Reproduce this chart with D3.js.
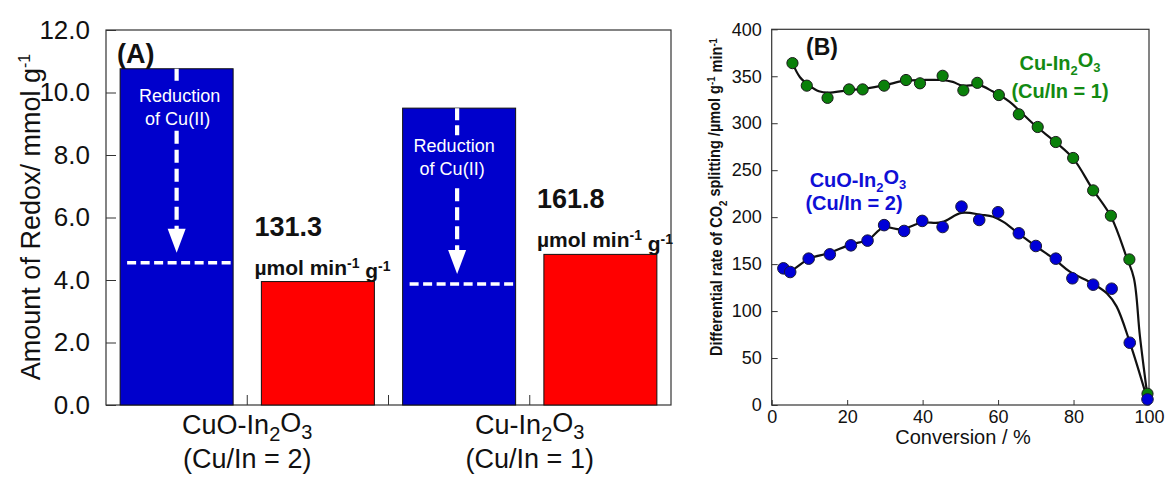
<!DOCTYPE html>
<html>
<head>
<meta charset="utf-8">
<script src="https://cdn.jsdelivr.net/npm/d3@7/dist/d3.min.js"></script>
<style>
  html, body { margin: 0; padding: 0; background: #fff; }
  svg { display: block; font-family: "Liberation Sans", Arial, sans-serif; }
</style>
</head>
<body>
<svg id="chart" width="1166" height="477"></svg>
<script>
// ---------- Panel A: redox amounts ----------
const samples = ["CuO-In2O3 (Cu/In = 2)", "Cu-In2O3 (Cu/In = 1)"];
const sampleNames = [
  [{t: "CuO-In"}, {t: "2", sub: true}, {t: "O"}, {t: "3", sub: true}],
  [{t: "Cu-In"}, {t: "2", sub: true}, {t: "O"}, {t: "3", sub: true}]
];
const sampleRatios = ["(Cu/In = 2)", "(Cu/In = 1)"];
const redoxAmount = [10.76, 9.50];      // blue bars, mmol g-1
const splittingAmount = [3.95, 4.82];   // red bars, mmol g-1
const cuReductionLevel = [4.55, 3.87];  // dashed level of Cu(II) reduction
const rateLabels = ["131.3", "161.8"];  // µmol min-1 g-1
const yTicksA = [0, 2, 4, 6, 8, 10, 12];

// ---------- Panel B: differential rate of CO2 splitting ----------
const cuConv = [5.5, 9.3, 14.8, 20.5, 24.1, 29.8, 35.6, 39.3, 45.3, 50.8, 54.5, 60.2, 65.5, 70.5, 75.3, 79.9, 85.2, 89.9, 94.8, 99.6];
const cuRate = [364, 340, 327, 336, 336, 340, 346, 342.5, 350.5, 335, 343, 330, 309.5, 296, 280, 263, 228.5, 201.5, 155, 12];
const cuFitConv = [5.5, 7.5, 10, 12.5, 15, 20, 25, 30, 35, 40, 45, 48, 50.5, 55, 58.5, 63, 66, 70, 75.5, 80, 85, 90, 94, 96, 97.6, 99.5];
const cuFitRate = [364, 349, 340, 334, 332.5, 335, 337, 340.5, 345, 346, 346, 344, 340, 340.5, 334, 323, 312, 297, 279, 262, 230, 200, 158, 135, 73, 12];

const cuoConv = [3.1, 4.9, 9.8, 15.4, 21.0, 25.4, 29.8, 35.1, 39.9, 45.3, 50.3, 55.0, 60.0, 65.5, 70.0, 75.3, 79.7, 85.2, 90.1, 94.9, 99.6];
const cuoRate = [145.5, 141.6, 155.8, 160.4, 170, 175, 191.5, 185.3, 196, 189.5, 211.2, 197, 205.2, 182.8, 169.3, 155.8, 134.9, 128.1, 123.8, 66.3, 6];
const cuoFitConv = [3.5, 5, 10, 15, 21, 25.6, 29.6, 34.4, 39.7, 45, 50.3, 55.6, 58.7, 61.4, 65.3, 70.2, 75, 79, 85, 88.8, 91.4, 95, 99.5];
const cuoFitRate = [144, 143, 156, 161.5, 171, 176, 189, 187, 194, 194.5, 204.5, 202.5, 200.5, 195, 183, 168.5, 155, 142, 129.5, 119, 105, 65.7, 7];

const xTicksB = [0, 20, 40, 60, 80, 100];
const yTicksB = [0, 50, 100, 150, 200, 250, 300, 350, 400];

const svg = d3.select("#chart");
const FONT = '"Liberation Sans", Arial, sans-serif';

// Writes a run of text pieces with sub/superscripts into a <text> element.
function richText(sel, parts, subSize, subShift) {
  let shift = 0;
  parts.forEach(p => {
    const ts = sel.append("tspan").text(p.t);
    let target = 0;
    if (p.sub) target = subShift;
    if (p.sup) target = -subShift;
    ts.attr("dy", (target - shift) + "em");
    if (p.sub || p.sup) ts.attr("font-size", subSize);
    shift = target;
  });
}

// ===== Panel A =====
const A = {left: 106, right: 671, top: 30, bottom: 405};
const yA = d3.scaleLinear().domain([0, 12]).range([A.bottom, A.top]);
const xCat = d3.scaleBand().domain(samples).range([A.left, A.right]);
const xSeries = d3.scaleBand().domain(["redox", "splitting"])
  .range([0, xCat.bandwidth()]).paddingInner(0.2).paddingOuter(0.1);

const gA = svg.append("g");

// frame
gA.append("rect")
  .attr("x", A.left).attr("y", A.top)
  .attr("width", A.right - A.left).attr("height", A.bottom - A.top)
  .attr("fill", "none").attr("stroke", "#333").attr("stroke-width", 1.2);

// bars
const barData = samples.map((s, i) => ({s, i}));
gA.selectAll("rect.redox").data(barData).join("rect")
  .attr("class", "redox")
  .attr("x", d => xCat(d.s) + xSeries("redox"))
  .attr("y", d => yA(redoxAmount[d.i]))
  .attr("width", xSeries.bandwidth())
  .attr("height", d => yA(0) - yA(redoxAmount[d.i]))
  .attr("fill", "#0000cc").attr("stroke", "#111").attr("stroke-width", 1);

gA.selectAll("rect.split").data(barData).join("rect")
  .attr("class", "split")
  .attr("x", d => xCat(d.s) + xSeries("splitting"))
  .attr("y", d => yA(splittingAmount[d.i]))
  .attr("width", xSeries.bandwidth())
  .attr("height", d => yA(0) - yA(splittingAmount[d.i]))
  .attr("fill", "#ff0000").attr("stroke", "#111").attr("stroke-width", 1);

// Cu(II) reduction annotation inside the blue bars
const annot = [
  {textTop: 33, gapEnd: 62, dx: 0, tdx: 3},
  {textTop: 44, gapEnd: 80, dx: -2, tdx: -3}
];
barData.forEach(d => {
  const bx = xCat(d.s) + xSeries("redox");
  const bw = xSeries.bandwidth();
  const cx = bx + bw / 2 + annot[d.i].dx;
  const top = yA(redoxAmount[d.i]);
  const level = yA(cuReductionLevel[d.i]);
  const tip = level - 10;
  const headH = 24, headW = 18;
  // dashed shaft above and below the text
  gA.append("line")
    .attr("x1", cx).attr("x2", cx)
    .attr("y1", top).attr("y2", top + annot[d.i].textTop - 17)
    .attr("stroke", "#fff").attr("stroke-width", 4.2)
    .attr("stroke-dasharray", "12,5");
  gA.append("line")
    .attr("x1", cx).attr("x2", cx)
    .attr("y1", top + annot[d.i].gapEnd).attr("y2", tip - headH + 2)
    .attr("stroke", "#fff").attr("stroke-width", 4.2)
    .attr("stroke-dasharray", "13,6");
  gA.append("path")
    .attr("d", `M${cx - headW / 2},${tip - headH} L${cx + headW / 2},${tip - headH} L${cx},${tip} Z`)
    .attr("fill", "#fff");
  // dashed level line
  gA.append("line")
    .attr("x1", bx + 7).attr("x2", bx + bw - 2)
    .attr("y1", level).attr("y2", level)
    .attr("stroke", "#fff").attr("stroke-width", 3.5)
    .attr("stroke-dasharray", "9,4.5");
  const t = gA.append("text")
    .attr("x", cx + annot[d.i].tdx).attr("y", top + annot[d.i].textTop)
    .attr("text-anchor", "middle").attr("fill", "#fff")
    .attr("font-size", 18);
  t.append("tspan").attr("x", cx + annot[d.i].tdx).text("Reduction");
  t.append("tspan").attr("x", cx + annot[d.i].tdx - 2).attr("dy", 23).text("of Cu(II)");
});

// rate labels above the red bars
barData.forEach(d => {
  const bx = xCat(d.s) + xSeries("splitting") - 7;
  const top = yA(splittingAmount[d.i]);
  gA.append("text")
    .attr("x", bx).attr("y", top - 46)
    .attr("font-size", 27).attr("font-weight", "bold").attr("fill", "#111")
    .text(rateLabels[d.i]);
  const u = gA.append("text")
    .attr("x", bx).attr("y", top - 7)
    .attr("font-size", 21).attr("font-weight", "bold").attr("fill", "#111");
  richText(u, [{t: "\u00b5mol min"}, {t: "-1", sup: true}, {t: " g"}, {t: "-1", sup: true}], 14, 0.5);
});

// y axis A
const axA = gA.append("g")
  .attr("transform", `translate(${A.left},0)`)
  .call(d3.axisLeft(yA).tickValues(yTicksA).tickFormat(d3.format(".1f"))
    .tickSize(-10).tickPadding(16));
axA.select(".domain").remove();
axA.selectAll("line").attr("stroke", "#333");
axA.selectAll("text").attr("font-size", 26).attr("font-family", FONT).attr("fill", "#111");

// bottom ticks: category centres and the boundary between categories
const bottomTicks = samples.map(s => xCat(s) + xCat.bandwidth() / 2)
  .concat([xCat(samples[1])]);
gA.selectAll("line.bt").data(bottomTicks).join("line")
  .attr("class", "bt")
  .attr("x1", d => d).attr("x2", d => d)
  .attr("y1", A.bottom).attr("y2", A.bottom - 10)
  .attr("stroke", "#333");

// category labels
samples.forEach((s, i) => {
  const cx = xCat(s) + xCat.bandwidth() / 2;
  const t = gA.append("text")
    .attr("x", cx).attr("y", 434).attr("text-anchor", "middle")
    .attr("font-size", 27).attr("fill", "#111");
  richText(t, sampleNames[i], 20, 0.35);
  gA.append("text")
    .attr("x", cx).attr("y", 468).attr("text-anchor", "middle")
    .attr("font-size", 27).attr("fill", "#111")
    .text(sampleRatios[i]);
});

// y title A
const ytA = gA.append("text")
  .attr("transform", "translate(40,217) rotate(-90)")
  .attr("text-anchor", "middle").attr("font-size", 27).attr("fill", "#111");
richText(ytA, [{t: "Amount of Redox/ mmol g"}, {t: "-1", sup: true}], 16, 0.6);

// panel tag
gA.append("text").attr("x", 117).attr("y", 63)
  .attr("font-size", 27).attr("font-weight", "bold").attr("fill", "#111").text("(A)");

// ===== Panel B =====
const B = {left: 771.7, right: 1149, top: 29.3, bottom: 405};
const xB = d3.scaleLinear().domain([0, 100]).range([B.left, B.right]);
const yB = d3.scaleLinear().domain([0, 400]).range([B.bottom, B.top]);
const gB = svg.append("g");

gB.append("rect")
  .attr("x", B.left).attr("y", B.top)
  .attr("width", B.right - B.left).attr("height", B.bottom - B.top)
  .attr("fill", "none").attr("stroke", "#333").attr("stroke-width", 1.2);

const axBx = gB.append("g")
  .attr("transform", `translate(0,${B.bottom})`)
  .call(d3.axisBottom(xB).tickValues(xTicksB).tickSize(-5).tickPadding(5));
const axBy = gB.append("g")
  .attr("transform", `translate(${B.left},0)`)
  .call(d3.axisLeft(yB).tickValues(yTicksB).tickSize(-6).tickPadding(10));
[axBx, axBy].forEach(ax => {
  ax.select(".domain").remove();
  ax.selectAll("line").attr("stroke", "#333");
  ax.selectAll("text").attr("font-size", 18).attr("font-family", FONT).attr("fill", "#111");
});

const line = d3.line().x(d => xB(d[0])).y(d => yB(d[1])).curve(d3.curveCatmullRom.alpha(0.5));
gB.append("path").datum(cuFitConv.map((c, i) => [c, cuFitRate[i]]))
  .attr("d", line).attr("fill", "none").attr("stroke", "#111").attr("stroke-width", 2.2);
gB.append("path").datum(cuoFitConv.map((c, i) => [c, cuoFitRate[i]]))
  .attr("d", line).attr("fill", "none").attr("stroke", "#111").attr("stroke-width", 2.2);

gB.selectAll("circle.cu").data(cuConv.map((c, i) => [c, cuRate[i]])).join("circle")
  .attr("class", "cu")
  .attr("cx", d => xB(d[0])).attr("cy", d => yB(d[1])).attr("r", 5.6)
  .attr("fill", "#0a800a").attr("stroke", "#1a1a1a").attr("stroke-width", 1);
gB.selectAll("circle.cuo").data(cuoConv.map((c, i) => [c, cuoRate[i]])).join("circle")
  .attr("class", "cuo")
  .attr("cx", d => xB(d[0])).attr("cy", d => yB(d[1])).attr("r", 5.8)
  .attr("fill", "#0000d8").attr("stroke", "#1a1a3a").attr("stroke-width", 1);

// series labels
const g1 = gB.append("text").attr("x", 1060).attr("y", 70).attr("text-anchor", "middle")
  .attr("font-size", 20).attr("font-weight", "bold").attr("fill", "#138a13");
richText(g1, sampleNames[1], 13, 0.37);
gB.append("text").attr("x", 1060).attr("y", 98).attr("text-anchor", "middle")
  .attr("font-size", 20).attr("font-weight", "bold").attr("fill", "#138a13").text(sampleRatios[1]);

const b1 = gB.append("text").attr("x", 858).attr("y", 187).attr("text-anchor", "middle")
  .attr("font-size", 20).attr("font-weight", "bold").attr("fill", "#0f0fd6");
richText(b1, sampleNames[0], 13, 0.37);
gB.append("text").attr("x", 854).attr("y", 210).attr("text-anchor", "middle")
  .attr("font-size", 20).attr("font-weight", "bold").attr("fill", "#0f0fd6").text(sampleRatios[0]);

// axis titles
gB.append("text").attr("x", 963).attr("y", 444).attr("text-anchor", "middle")
  .attr("font-size", 20).attr("fill", "#111").text("Conversion / %");
const ytB = gB.append("text")
  .attr("transform", "translate(722,197) rotate(-90)")
  .attr("text-anchor", "middle").attr("font-size", 16.5).attr("font-weight", "bold").attr("fill", "#111")
  .attr("textLength", 318).attr("lengthAdjust", "spacingAndGlyphs");
richText(ytB, [{t: "Differential rate of CO"}, {t: "2", sub: true}, {t: " splitting /\u00b5mol g"},
  {t: "-1", sup: true}, {t: " min"}, {t: "-1", sup: true}], 11, 0.45);

gB.append("text").attr("x", 806).attr("y", 55)
  .attr("font-size", 23).attr("font-weight", "bold").attr("fill", "#111").text("(B)");
</script>
</body>
</html>
